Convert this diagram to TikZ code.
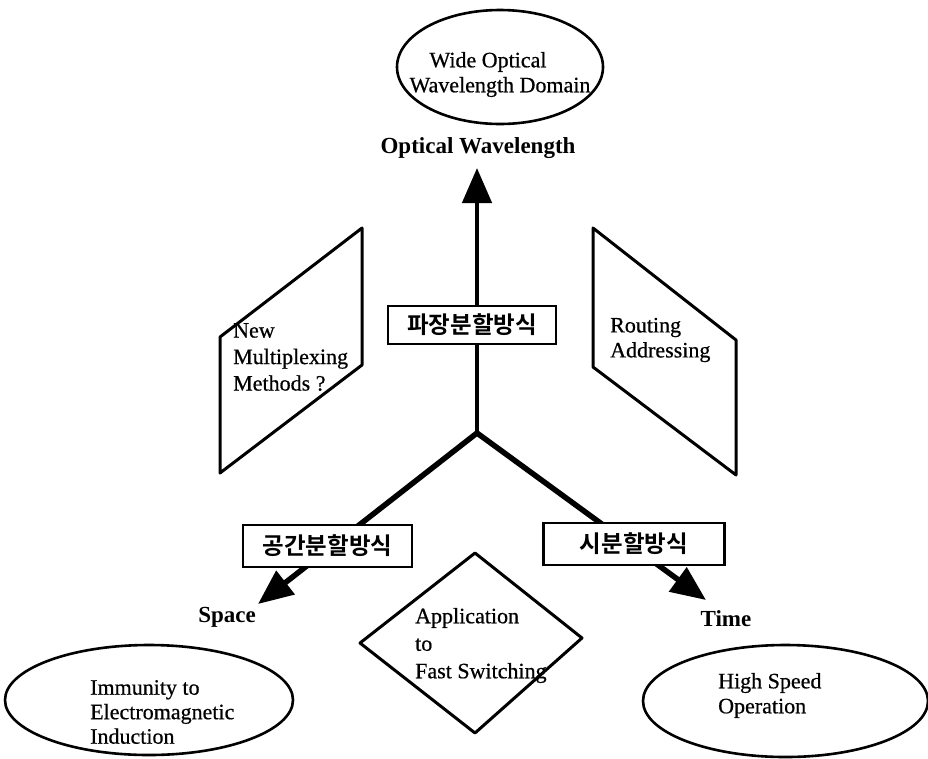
\documentclass[tikz,border=0pt]{standalone}
\usepackage{fontspec}
\setmainfont{Liberation Serif}[UprightFeatures={FakeBold=0.6}]
\newfontfamily\kfont{Noto Sans CJK KR Bold}
\usetikzlibrary{shapes.geometric,arrows.meta}
\begin{document}
\begin{tikzpicture}[x=1pt,y=-1pt,
  oval/.style={draw,line width=2.6pt,ellipse,inner sep=0pt},
  body/.style={font=\fontsize{22}{25}\selectfont,align=left,inner sep=0pt},
  axislbl/.style={font=\fontsize{23}{26}\selectfont\bfseries,inner sep=0pt},
  kbox/.style={draw,line width=2.6pt,fill=white,font=\kfont\fontsize{23.5}{26}\selectfont,inner sep=0pt},
  axis/.style={line width=5.5pt,-{Triangle[length=35pt,width=29pt]}},
  plane/.style={draw,line width=3pt,line join=round}]
\useasboundingbox (0,0) rectangle (928,758);
% junction and arrow tips
\coordinate (J) at (477,433);
\coordinate (tipW) at (477,168);
\coordinate (tipS) at (258,604);
\coordinate (tipT) at (706,600);
% axes
\draw[axis,line width=4.6pt] (J) -- (tipW);
\draw[axis] (J) -- (tipS);
\draw[axis] (J) -- (tipT);
% labels on axes
\node[kbox,minimum width=168pt,minimum height=38pt] (kw) at (472,325) {파장분할방식};
\node[kbox,minimum width=169pt,minimum height=42pt] (ks) at (327.5,546) {공간분할방식};
\node[kbox,minimum width=181pt,minimum height=42pt] (kt) at (634,544) {시분할방식};
% axis names
\node[axislbl] (ow) at (478,148) {Optical Wavelength};
\node[axislbl] (sp) at (227,617) {Space};
\node[axislbl] (tm) at (726,619) {Time};
% ellipses
\node[oval,minimum width=206pt,minimum height=114pt] (e1) at (500,67) {};
\node[body] (t1a) at (488,62) {Wide Optical};
\node[body] (t1b) at (500,87) {Wavelength Domain};
\node[oval,minimum width=288pt,minimum height=110pt] (e2) at (149,700) {};
\node[body,anchor=west,font=\fontsize{22}{24.5}\selectfont] (t2) at (90,712) {Immunity to\\Electromagnetic\\Induction};
\node[oval,minimum width=285pt,minimum height=112pt] (e3) at (785.5,701) {};
\node[body,anchor=west] (t3) at (718,695.5) {High Speed\\Operation};
% parallelograms
\draw[plane] (362,228) -- (220,337) -- (220,473) -- (362,365) -- cycle;
\node[body,anchor=west,font=\fontsize{22}{26.5}\selectfont] (t4) at (233,357) {New\\Multiplexing\\Methods ?};
\draw[plane] (593,228) -- (736,340) -- (736,475) -- (593,367) -- cycle;
\node[body,anchor=west] (t5) at (610,340) {Routing\\Addressing};
% diamond
\draw[plane] (475,553) -- (582,638) -- (475,733) -- (360,643) -- cycle;
\node[body,anchor=west,font=\fontsize{22}{27.5}\selectfont] (t6) at (415,645.5) {Application\\to\\Fast Switching};
\end{tikzpicture}
\end{document}
